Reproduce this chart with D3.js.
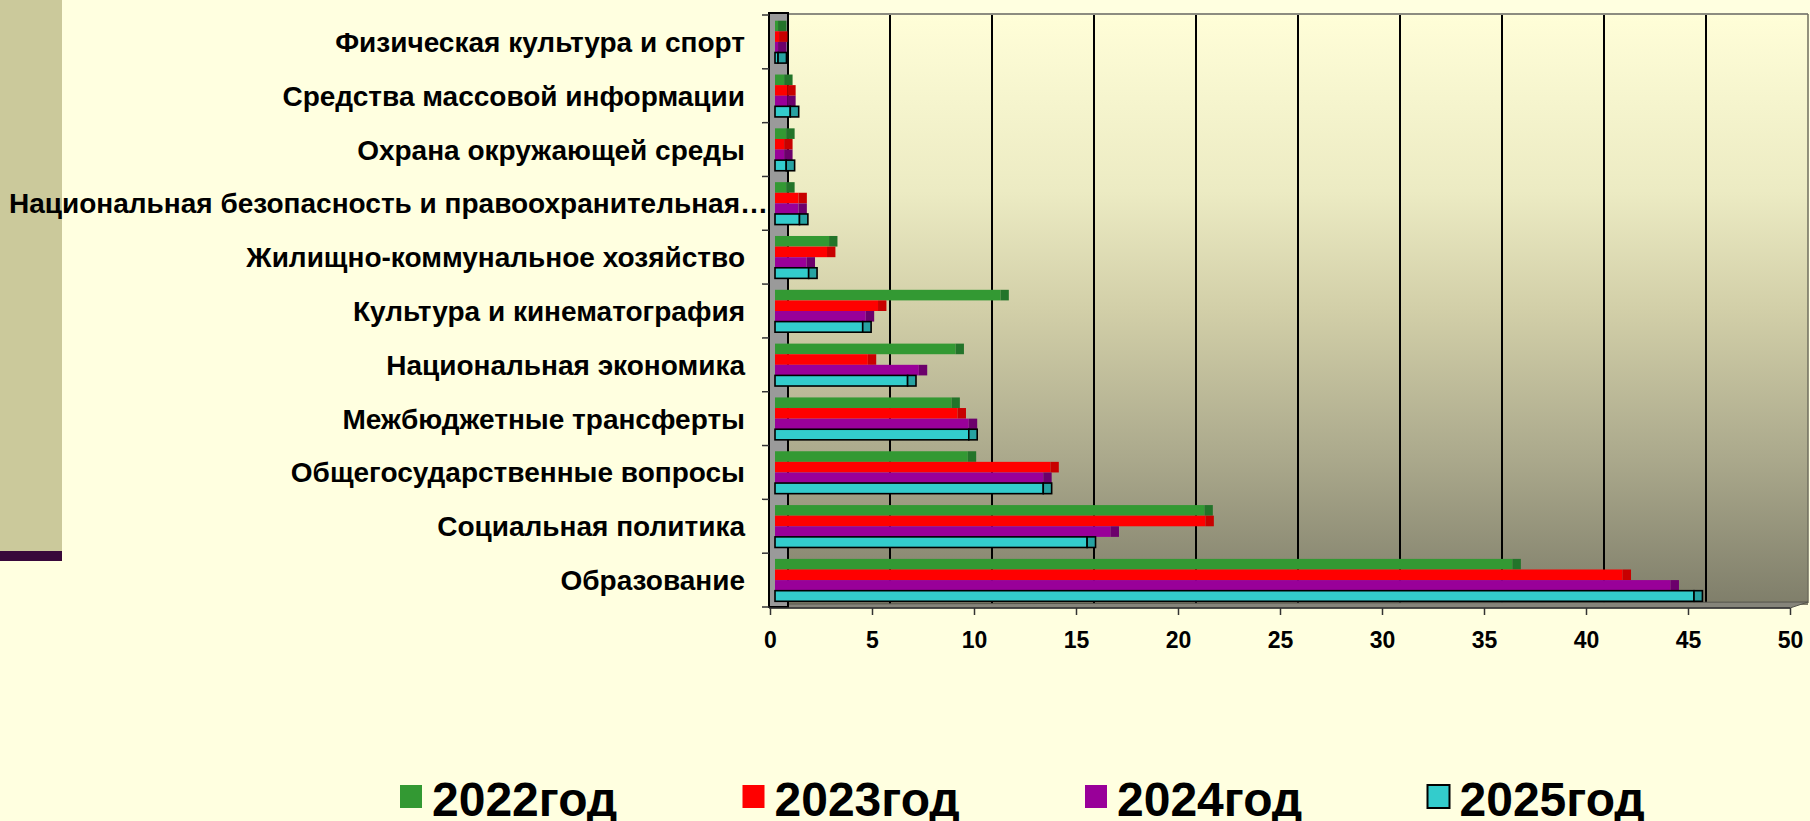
<!DOCTYPE html>
<html>
<head>
<meta charset="utf-8">
<script src="https://cdn.jsdelivr.net/npm/d3@7"></script>
<style>
  body { margin: 0; background: #ffffe0; }
  svg { display: block; font-family: "Liberation Sans", Arial, sans-serif; font-weight: bold; }
</style>
</head>
<body>
<div id="chart"></div>
<script>
// категории сверху вниз, как на слайде
const categories = [
    "Физическая культура и спорт",
    "Средства массовой информации",
    "Охрана окружающей среды",
    "Национальная безопасность и правоохранительная…",
    "Жилищно-коммунальное хозяйство",
    "Культура и кинематография",
    "Национальная экономика",
    "Межбюджетные трансферты",
    "Общегосударственные вопросы",
    "Социальная политика",
    "Образование"
];
const years = ["2022год", "2023год", "2024год", "2025год"];
const v2022 = [0.15, 0.45, 0.55, 0.55, 2.65, 11.05, 8.85, 8.65, 9.45, 21.05, 36.15];
const v2023 = [0.2, 0.6, 0.45, 1.15, 2.55, 5.05, 4.55, 8.95, 13.5, 21.1, 41.55];
const v2024 = [0.15, 0.6, 0.45, 1.15, 1.55, 4.45, 7.05, 9.5, 13.15, 16.45, 43.9];
const v2025 = [0.15, 0.75, 0.55, 1.2, 1.65, 4.3, 6.5, 9.5, 13.15, 15.3, 45.05];
const xTicks = [0, 5, 10, 15, 20, 25, 30, 35, 40, 45, 50];

const seriesValues = [v2022, v2023, v2024, v2025];
const colors = ["#339933", "#ff0000", "#990099", "#33cccc"];
const capColors = ["#23742a", "#c80000", "#6c006c", "#27a2a2"];

const W = 1810, H = 821;
const plotTop = 14, plotBottom = 607;
const capW = 8.4;

const svg = d3.select("#chart").append("svg")
    .attr("width", W)
    .attr("height", H);

const defs = svg.append("defs");
const grad = defs.append("linearGradient")
    .attr("id", "wall")
    .attr("x1", 0).attr("y1", 0).attr("x2", 0).attr("y2", 1);
[[0, "#fffed8"], [0.3, "#ecebc3"], [0.5, "#d2cfa8"], [0.75, "#aba98c"], [1, "#7f7e6a"]]
    .forEach(s => grad.append("stop").attr("offset", s[0]).attr("stop-color", s[1]));

// левая плашка слайда
svg.append("rect").attr("x", 0).attr("y", 0).attr("width", 62).attr("height", 551).attr("fill", "#cbc99b");
svg.append("rect").attr("x", 0).attr("y", 551).attr("width", 62).attr("height", 10).attr("fill", "#38083a");

const xFront = d3.scaleLinear().domain([0, 50]).range([770, 1790]);
const xBack = d3.scaleLinear().domain([0, 50]).range([788, 1808]);
const xBar = d3.scaleLinear().domain([0, 50]).range([775, 1795]);

const y = d3.scaleBand()
    .domain(categories)
    .range([plotTop + 1, plotBottom])
    .padding(0);

const groupH = 42.4;
const ySub = d3.scaleBand()
    .domain(years)
    .range([(y.bandwidth() - groupH) / 2, (y.bandwidth() + groupH) / 2])
    .padding(0);

// задняя стенка
svg.append("rect")
    .attr("x", xBack(0)).attr("y", plotTop)
    .attr("width", xBack(50) - xBack(0)).attr("height", plotBottom - 2 - plotTop)
    .attr("fill", "url(#wall)");

svg.append("g")
    .selectAll("line")
    .data(xTicks.slice(1, -1))
    .enter()
    .append("line")
    .attr("x1", d => xBack(d)).attr("x2", d => xBack(d))
    .attr("y1", plotTop).attr("y2", plotBottom - 2)
    .attr("stroke", "#000").attr("stroke-width", 2);

svg.append("line")
    .attr("x1", xBack(0)).attr("x2", xBack(50))
    .attr("y1", plotTop).attr("y2", plotTop)
    .attr("stroke", "#8c8c80").attr("stroke-width", 2);
svg.append("line")
    .attr("x1", xBack(50)).attr("x2", xBack(50))
    .attr("y1", plotTop).attr("y2", plotBottom - 4)
    .attr("stroke", "#6f6e5e").attr("stroke-width", 1.5);

// пол
svg.append("path")
    .attr("d", `M${xFront(0)},${plotBottom + 1} L${xBack(0)},${plotBottom - 3} L${xBack(50)},${plotBottom - 5} L${xFront(50)},${plotBottom + 1} Z`)
    .attr("fill", "#85847a").attr("stroke", "#55554c").attr("stroke-width", 1);

// левая стенка
svg.append("rect")
    .attr("x", 769).attr("y", plotTop - 1)
    .attr("width", xBack(0) - 769).attr("height", plotBottom + 1 - plotTop)
    .attr("fill", "#9a9a9a")
    .attr("stroke", "#000").attr("stroke-width", 2);

// нижняя ось
svg.append("line")
    .attr("x1", 769).attr("x2", xFront(50))
    .attr("y1", plotBottom + 1).attr("y2", plotBottom + 1)
    .attr("stroke", "#333").attr("stroke-width", 1.5);

const xAxis = svg.append("g")
    .attr("transform", `translate(0,${plotBottom + 1})`)
    .call(d3.axisBottom(xFront).tickValues(xTicks).tickSize(7).tickPadding(17));
xAxis.select(".domain").remove();
xAxis.selectAll("line").attr("stroke", "#333").attr("stroke-width", 1.5);
xAxis.selectAll("text")
    .attr("fill", "#000")
    .style("font-size", "23px")
    .style("font-weight", "bold")
    .style("font-family", "'Liberation Sans', Arial, sans-serif");

// отметки категорий
svg.append("g")
    .selectAll("line")
    .data(categories.concat(["end"]))
    .enter()
    .append("line")
    .attr("x1", 762).attr("x2", 769)
    .attr("y1", d => d === "end" ? plotBottom : y(d))
    .attr("y2", d => d === "end" ? plotBottom : y(d))
    .attr("stroke", "#333").attr("stroke-width", 1.5);

// подписи категорий
svg.append("g")
    .selectAll("text")
    .data(categories)
    .enter()
    .append("text")
    .attr("x", d => d.endsWith("…") ? 768 : 745)
    .attr("y", d => y(d) + y.bandwidth() / 2 + 10)
    .attr("text-anchor", "end")
    .style("font-size", "28px")
    .attr("fill", "#000")
    .text(d => d);

// столбцы
const rows = [];
categories.forEach((c, i) => {
    years.forEach((yr, s) => {
        rows.push({ cat: c, year: yr, s: s, value: seriesValues[s][i] });
    });
});

const bars = svg.append("g")
    .selectAll("g")
    .data(rows)
    .enter()
    .append("g");

bars.append("rect")
    .attr("x", xBar(0))
    .attr("y", d => y(d.cat) + ySub(d.year))
    .attr("width", d => xBar(d.value) - xBar(0))
    .attr("height", ySub.bandwidth())
    .attr("fill", d => colors[d.s])
    .attr("stroke", d => d.s === 3 ? "#000" : "none")
    .attr("stroke-width", 1.6);

bars.append("rect")
    .attr("x", d => xBar(d.value))
    .attr("y", d => y(d.cat) + ySub(d.year))
    .attr("width", capW)
    .attr("height", ySub.bandwidth())
    .attr("fill", d => capColors[d.s])
    .attr("stroke", d => d.s === 3 ? "#000" : "none")
    .attr("stroke-width", 1.6);

// легенда
const legend = svg.append("g")
    .selectAll("g")
    .data(years)
    .enter()
    .append("g")
    .attr("transform", (d, i) => `translate(${400 + i * 342.5},785)`);

legend.append("rect")
    .attr("width", 22).attr("height", 23)
    .attr("fill", (d, i) => colors[i])
    .attr("stroke", (d, i) => i === 3 ? "#000" : "none")
    .attr("stroke-width", 2);

legend.append("text")
    .attr("x", 32).attr("y", 31)
    .style("font-size", "48px")
    .attr("fill", "#000")
    .text(d => d);
</script>
</body>
</html>
